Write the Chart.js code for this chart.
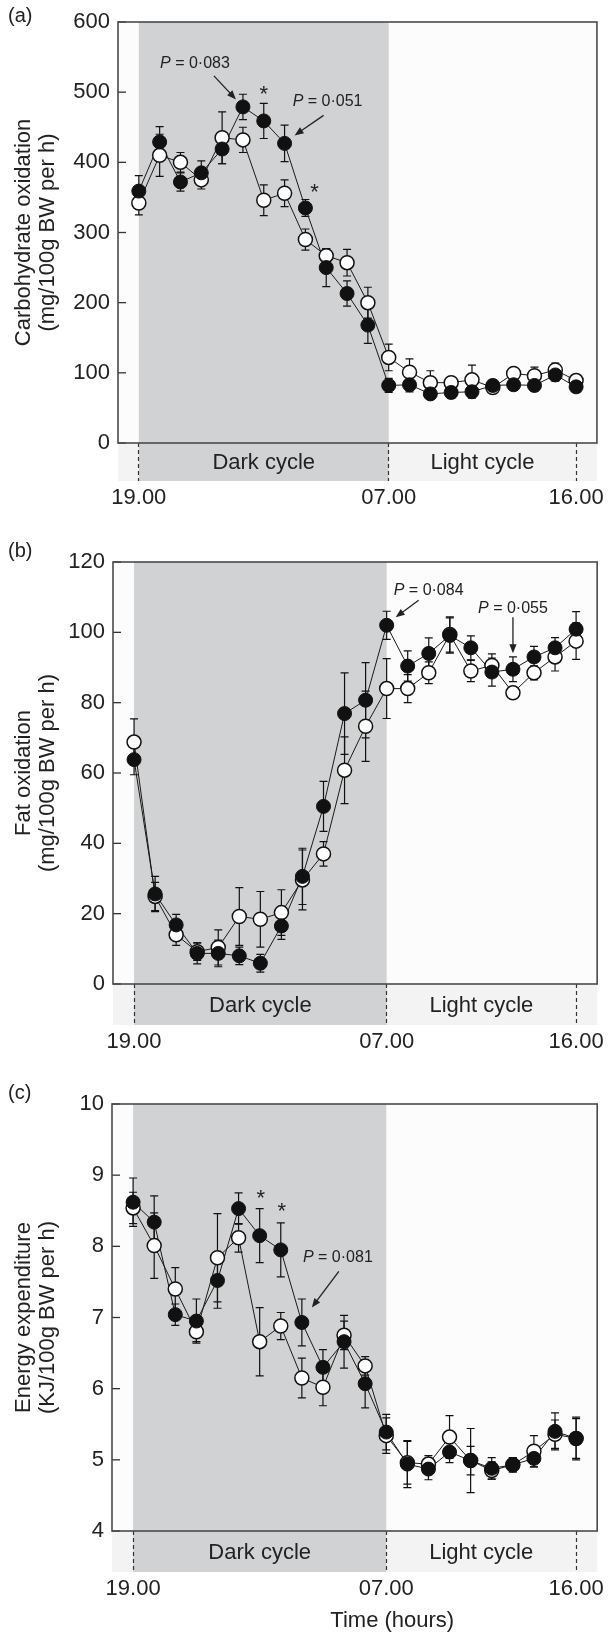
<!DOCTYPE html>
<html>
<head>
<meta charset="utf-8">
<script src="https://cdn.jsdelivr.net/npm/chart.js@4.4.0/dist/chart.umd.min.js"></script>
<style>
  body { margin: 0; background: #fff; width: 608px; height: 1633px; position: relative; overflow: hidden;
         font-family: "Liberation Sans", Arial, sans-serif; color: #222; }
  .panel { position: absolute; left: 0; width: 608px; }
  .tag { position: absolute; left: 8px; font-size: 20px; line-height: 20px; color: #222; }
</style>
</head>
<body>
<div class="panel" style="top:0"><canvas id="chartA" width="608" height="520"></canvas></div>
<div class="panel" style="top:520px"><canvas id="chartB" width="608" height="545"></canvas></div>
<div class="panel" style="top:1065px"><canvas id="chartC" width="608" height="568"></canvas></div>
<div class="tag" style="top:5px">(a)</div>
<div class="tag" style="top:540px">(b)</div>
<div class="tag" style="top:1082px">(c)</div>
<script>
// hourly samples, 19.00 -> 16.00
const hours = ['19', '20', '21', '22', '23', '00', '01', '02', '03', '04', '05',
               '06', '07', '08', '09', '10', '11', '12', '13', '14', '15', '16'];
const tickPositions = [0, 12, 21];
const tickLabels = ['19.00', '07.00', '16.00'];
const darkStart = 0;
const darkEnd = 12;

// (a) carbohydrate oxidation
const carbFilled = [359, 429, 372, 385, 419, 479, 459, 427, 335, 250, 213, 168, 82, 83, 70, 72, 73, 82, 83, 82, 97, 80];
const carbFilledErr = [22, 22, 13, 17, 21, 18, 25, 26, 12, 27, 18, 26, 10, 10, 8, 8, 9, 8, 8, 8, 9, 8];
const carbOpen = [342, 410, 400, 375, 435, 432, 346, 356, 290, 267, 257, 200, 122, 101, 86, 86, 90, 79, 99, 96, 104, 89];
const carbOpenErr = [17, 30, 14, 13, 37, 18, 22, 19, 15, 10, 19, 22, 19, 19, 17, 8, 21, 7, 8, 12, 10, 6];

// (b) fat oxidation
const fatFilled = [63.8, 25.6, 16.8, 8.7, 8.7, 8.0, 5.9, 16.5, 30.6, 50.5, 76.9, 80.7, 102.0, 90.4, 94.0, 99.1, 95.6, 88.7, 89.5, 93.0, 95.6, 100.9];
const fatFilledErr = [4.3, 5, 3, 3, 3.8, 2.5, 2.5, 3.8, 8, 7.1, 11.6, 10.7, 4, 4.3, 4.4, 5, 3.4, 4, 3.5, 3, 2.9, 5];
const fatOpen = [68.8, 24.9, 14.0, 9.2, 10.4, 19.2, 18.4, 20.3, 29.6, 37.0, 60.8, 73.3, 84.0, 84.0, 88.5, 99.4, 89.0, 90.6, 82.8, 88.5, 93.0, 97.5];
const fatOpenErr = [6.6, 4, 3, 2.5, 5, 8.2, 7.9, 6.5, 8.5, 3.5, 9.5, 10, 8.5, 4, 3.1, 5, 3, 3.3, 1.5, 2, 4, 5.2];

// (c) energy expenditure
const energyFilled = [8.62, 8.34, 7.04, 6.95, 7.52, 8.53, 8.15, 7.95, 6.93, 6.30, 6.66, 6.07, 5.39, 4.94, 4.87, 5.11, 4.99, 4.88, 4.93, 5.02, 5.40, 5.30];
const energyFilledErr = [0.34, 0.37, 0.15, 0.31, 0.39, 0.22, 0.38, 0.38, 0.33, 0.25, 0.37, 0.34, 0.25, 0.33, 0.15, 0.15, 0.45, 0.15, 0.1, 0.12, 0.26, 0.30];
const energyOpen = [8.54, 8.01, 7.40, 6.80, 7.84, 8.12, 6.66, 6.88, 6.15, 6.02, 6.75, 6.32, 5.34, 4.96, 4.94, 5.32, 4.99, 4.85, 4.93, 5.12, 5.36, 5.30];
const energyOpenErr = [0.22, 0.46, 0.30, 0.14, 0.62, 0.2, 0.48, 0.19, 0.28, 0.26, 0.2, 0.13, 0.25, 0.3, 0.12, 0.3, 0.2, 0.12, 0.1, 0.22, 0.2, 0.28];

const FONT = '"Liberation Sans", Arial, sans-serif';
const INK = '#222';

function drawArrow(ctx, x1, y1, x2, y2) {
    const ang = Math.atan2(y2 - y1, x2 - x1);
    const len = 9, half = 3.6;
    ctx.beginPath();
    ctx.moveTo(x1, y1);
    ctx.lineTo(x2 - Math.cos(ang) * len * 0.8, y2 - Math.sin(ang) * len * 0.8);
    ctx.stroke();
    ctx.beginPath();
    ctx.moveTo(x2, y2);
    ctx.lineTo(x2 - Math.cos(ang) * len + Math.sin(ang) * half, y2 - Math.sin(ang) * len - Math.cos(ang) * half);
    ctx.lineTo(x2 - Math.cos(ang) * len - Math.sin(ang) * half, y2 - Math.sin(ang) * len + Math.cos(ang) * half);
    ctx.closePath();
    ctx.fill();
}

const panelDecor = {
    id: 'panelDecor',
    beforeDraw(chart) {
        const cfg = chart.canvas.panelCfg;
        const { ctx, chartArea: a, scales: { x } } = chart;
        const x0 = x.getPixelForValue(darkStart);
        const x1 = x.getPixelForValue(darkEnd);
        ctx.save();
        ctx.fillStyle = '#fcfcfc';
        ctx.fillRect(a.left, a.top, a.right - a.left, a.bottom - a.top);
        ctx.fillStyle = '#f3f3f3';
        ctx.fillRect(a.left, a.bottom, a.right - a.left, cfg.band);
        ctx.fillStyle = '#d1d2d4';
        ctx.fillRect(x0, a.top, x1 - x0, a.bottom + cfg.band - a.top);
        ctx.restore();
    },
    beforeDatasetsDraw(chart) {
        const cfg = chart.canvas.panelCfg;
        const { ctx, chartArea: a, scales: { x, y } } = chart;
        ctx.save();
        // cycle labels in the band under the axis
        ctx.fillStyle = INK;
        ctx.font = '22px ' + FONT;
        ctx.textAlign = 'center';
        ctx.textBaseline = 'middle';
        const bandY = a.bottom + cfg.band / 2 + 1;
        ctx.fillText('Dark cycle', (x.getPixelForValue(darkStart) + x.getPixelForValue(darkEnd)) / 2, bandY);
        ctx.fillText('Light cycle', (x.getPixelForValue(darkEnd) + x.getPixelForValue(tickPositions[2])) / 2, bandY);

        // error bars
        ctx.strokeStyle = '#111';
        ctx.lineWidth = 1.2;
        chart.data.datasets.forEach(ds => {
            if (!ds.errors) return;
            ds.data.forEach((p, i) => {
                const e = ds.errors[i];
                const px = x.getPixelForValue(p.x);
                const top = y.getPixelForValue(p.y + e);
                const bot = y.getPixelForValue(p.y - e);
                ctx.beginPath();
                ctx.moveTo(px, top); ctx.lineTo(px, bot);
                ctx.moveTo(px - 4, top); ctx.lineTo(px + 4, top);
                ctx.moveTo(px - 4, bot); ctx.lineTo(px + 4, bot);
                ctx.stroke();
            });
        });

        // inward y ticks
        ctx.strokeStyle = '#333';
        ctx.lineWidth = 1.3;
        y.ticks.forEach(t => {
            const py = y.getPixelForValue(t.value);
            ctx.beginPath();
            ctx.moveTo(a.left, py); ctx.lineTo(a.left + 8, py);
            ctx.stroke();
        });

        // frame
        ctx.strokeStyle = '#4a4a4a';
        ctx.lineWidth = 1.6;
        ctx.strokeRect(a.left, a.top, a.right - a.left, a.bottom - a.top);

        if (cfg.xTitle) {
            ctx.fillStyle = INK;
            ctx.font = '22px ' + FONT;
            ctx.fillText(cfg.xTitle, x.getPixelForValue(darkEnd) + 6, cfg.xTitleY);
        }
        ctx.restore();
    },
    afterDatasetsDraw(chart) {
        const cfg = chart.canvas.panelCfg;
        const { ctx, scales: { x, y } } = chart;
        ctx.save();
        ctx.fillStyle = INK;
        ctx.strokeStyle = INK;
        ctx.lineWidth = 1.3;
        cfg.notes.forEach(n => {
            const px = x.getPixelForValue(n.idx);
            const py = y.getPixelForValue(cfg.filled[n.idx]);
            if (n.kind === 'star') {
                ctx.font = '22px ' + FONT;
                ctx.textAlign = 'center';
                ctx.textBaseline = 'alphabetic';
                ctx.fillText('*', px + n.tx, py + n.ty + 12);
                return;
            }
            const rest = ' = ' + n.text;
            ctx.textBaseline = 'middle';
            ctx.textAlign = 'left';
            ctx.font = 'italic 16px ' + FONT;
            const wP = ctx.measureText('P').width;
            ctx.font = '16px ' + FONT;
            const wR = ctx.measureText(rest).width;
            const sx = px + n.tx - (wP + wR) / 2;
            ctx.font = 'italic 16px ' + FONT;
            ctx.fillText('P', sx, py + n.ty);
            ctx.font = '16px ' + FONT;
            ctx.fillText(rest, sx + wP, py + n.ty);
            drawArrow(ctx, px + n.ax[0], py + n.ax[1], px + n.ax[2], py + n.ax[3]);
        });
        ctx.restore();
    }
};

function makePanel(id, cfg) {
    const canvas = document.getElementById(id);
    canvas.panelCfg = cfg;
    const toPoints = vals => hours.map((h, i) => ({ x: i, y: vals[i] }));
    const lineStyle = { borderColor: '#1a1a1a', borderWidth: 1, pointRadius: 0, fill: false, tension: 0 };
    const markStyle = { showLine: false, pointRadius: 7, pointBorderColor: '#111' };

    return new Chart(canvas, {
        type: 'line',
        data: {
            datasets: [
                Object.assign({ label: 'open line', data: toPoints(cfg.open), order: 4 }, lineStyle),
                Object.assign({ label: 'filled line', data: toPoints(cfg.filled), order: 3 }, lineStyle),
                Object.assign({ label: 'open', data: toPoints(cfg.open), errors: cfg.openErr, order: 2,
                    pointBackgroundColor: '#fff', pointBorderWidth: 1.5 }, markStyle),
                Object.assign({ label: 'filled', data: toPoints(cfg.filled), errors: cfg.filledErr, order: 1,
                    pointBackgroundColor: '#111', pointBorderWidth: 1 }, markStyle)
            ]
        },
        options: {
            responsive: false,
            animation: false,
            events: [],
            layout: { padding: { left: 0, top: cfg.area.top, right: 608 - cfg.area.right, bottom: 0 } },
            plugins: { legend: { display: false }, tooltip: { enabled: false } },
            scales: {
                x: {
                    type: 'linear',
                    min: -1,
                    max: 22,
                    afterBuildTicks: scale => { scale.ticks = tickPositions.map(v => ({ value: v })); },
                    afterFit: scale => { scale.height = cfg.xHeight; },
                    ticks: {
                        autoSkip: false,
                        maxRotation: 0,
                        padding: cfg.tickPad,
                        color: INK,
                        font: { family: FONT, size: 22 },
                        callback: v => tickLabels[tickPositions.indexOf(v)]
                    },
                    grid: {
                        drawOnChartArea: false,
                        drawTicks: true,
                        tickLength: cfg.band,
                        tickColor: '#333',
                        tickWidth: 1.2,
                        tickBorderDash: [4, 3]
                    },
                    border: { display: false }
                },
                y: {
                    min: cfg.yMin,
                    max: cfg.yMax,
                    afterFit: scale => { scale.width = cfg.area.left; },
                    ticks: {
                        stepSize: cfg.yStep,
                        padding: 8,
                        color: INK,
                        font: { family: FONT, size: 22 }
                    },
                    grid: { drawOnChartArea: false, drawTicks: false },
                    border: { display: false },
                    title: {
                        display: true,
                        text: cfg.yTitle,
                        color: INK,
                        font: { family: FONT, size: 22, lineHeight: 1.1 },
                        padding: { top: 12, bottom: 0 }
                    }
                }
            }
        },
        plugins: [panelDecor]
    });
}

makePanel('chartA', {
    filled: carbFilled, filledErr: carbFilledErr, open: carbOpen, openErr: carbOpenErr,
    yMin: 0, yMax: 600, yStep: 100,
    area: { left: 118, top: 22, right: 602 }, xHeight: 77, band: 38, tickPad: 4,
    yTitle: ['Carbohydrate oxidation', '(mg/100g BW per h)'],
    notes: [
        { kind: 'p', idx: 5, text: '0·083', tx: -48, ty: -43, ax: [-29, -31, -7, -7.5] },
        { kind: 'star', idx: 6, tx: 0, ty: -32 },
        { kind: 'p', idx: 7, text: '0·051', tx: 43, ty: -42, ax: [39, -28, 10, -8] },
        { kind: 'star', idx: 8, tx: 9, ty: -21 }
    ]
});

makePanel('chartB', {
    filled: fatFilled, filledErr: fatFilledErr, open: fatOpen, openErr: fatOpenErr,
    yMin: 0, yMax: 120, yStep: 20,
    area: { left: 113, top: 42, right: 600 }, xHeight: 81, band: 41, tickPad: 4,
    yTitle: ['Fat oxidation', '(mg/100g BW per h)'],
    notes: [
        { kind: 'p', idx: 12, text: '0·084', tx: 42, ty: -35, ax: [32, -25, 9, -8] },
        { kind: 'p', idx: 18, text: '0·055', tx: 0, ty: -61, ax: [0, -52, 0, -16] }
    ]
});

makePanel('chartC', {
    filled: energyFilled, filledErr: energyFilledErr, open: energyOpen, openErr: energyOpenErr,
    yMin: 4, yMax: 10, yStep: 1,
    area: { left: 112, top: 39, right: 601 }, xHeight: 102, band: 41, tickPad: 4,
    yTitle: ['Energy expenditure', '(KJ/100g BW per h)'],
    xTitle: 'Time (hours)', xTitleY: 556,
    notes: [
        { kind: 'star', idx: 6, tx: 1, ty: -43 },
        { kind: 'star', idx: 7, tx: 1, ty: -44 },
        { kind: 'p', idx: 8, text: '0·081', tx: 36, ty: -65, ax: [37, -51, 10, -15] }
    ]
});
</script>
</body>
</html>
